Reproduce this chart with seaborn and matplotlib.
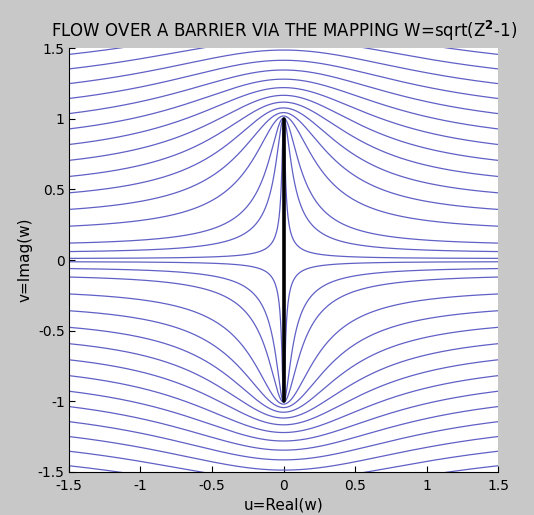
import numpy as np
import pandas as pd
import seaborn as sns
import matplotlib.pyplot as plt

# streamline levels (Im z = c) in the z-plane, mapped by w = sqrt(z^2 - 1)
posLevels = [0.01, 0.05, 0.1, 0.2, 0.3, 0.4, 0.5, 0.6, 0.7, 0.8, 0.9,
             1.0, 1.1, 1.2, 1.3, 1.4, 1.5]
levels = [-c for c in posLevels[::-1]] + posLevels
xRange = [-3.0, 3.0]
nPts = 8001

# barrier segment on the imaginary axis
barrierU = [0.0, 0.0]
barrierV = [-1.0, 1.0]

ticks = [-1.5, -1, -0.5, 0, 0.5, 1, 1.5]
tickLabels = ["-1.5", "-1", "-0.5", "0", "0.5", "1", "1.5"]

lineColor = "#6060c6"
bgColor = "#c8c8c8"

sns.set_style("ticks")
plt.rcParams["font.family"] = ["DejaVu Sans"]
plt.rcParams["text.color"] = "black"
plt.rcParams["axes.labelcolor"] = "black"

# build streamline table
frames = []
x = np.linspace(xRange[0], xRange[1], nPts)
for c in levels:
    z = x + 1j * c
    w = np.sqrt(z - 1) * np.sqrt(z + 1)
    frames.append(pd.DataFrame({"u": w.real, "v": w.imag, "level": c}))
flowData = pd.concat(frames, ignore_index=True)

fig = plt.figure(figsize=(5.34, 5.15), dpi=100, facecolor=bgColor)
ax = fig.add_axes([0.129, 0.0835, 0.804, 0.823])
ax.set_facecolor("white")

sns.lineplot(data=flowData, x="u", y="v", units="level", estimator=None,
             sort=False, color=lineColor, lw=0.9, ax=ax, legend=False)
sns.lineplot(x=barrierU, y=barrierV, color="black", lw=2.6, ax=ax,
             estimator=None, sort=False)

ax.set_xlim(-1.5, 1.5)
ax.set_ylim(-1.5, 1.5)
ax.set_xticks(ticks)
ax.set_xticklabels(tickLabels)
ax.set_yticks(ticks)
ax.set_yticklabels(tickLabels)
ax.tick_params(direction="in", length=4, width=0.8, labelsize=10,
               colors="black", labelcolor="black")
ax.tick_params(axis="x", pad=5)
ax.tick_params(axis="y", pad=3)
for side in ["top", "right"]:
    ax.spines[side].set_visible(False)
for side in ["left", "bottom"]:
    ax.spines[side].set_color("black")
    ax.spines[side].set_linewidth(0.8)

ax.set_title("FLOW OVER A BARRIER VIA THE MAPPING W=sqrt(Z$^{\\mathbf{2}}$-1)",
             fontsize=12, pad=8, color="black")
ax.set_xlabel("u=Real(w)", fontsize=11, labelpad=3, color="black")
ax.set_ylabel("v=Imag(w)", fontsize=11, labelpad=4, color="black")

fig.savefig("out.png", dpi=100, facecolor=bgColor)
